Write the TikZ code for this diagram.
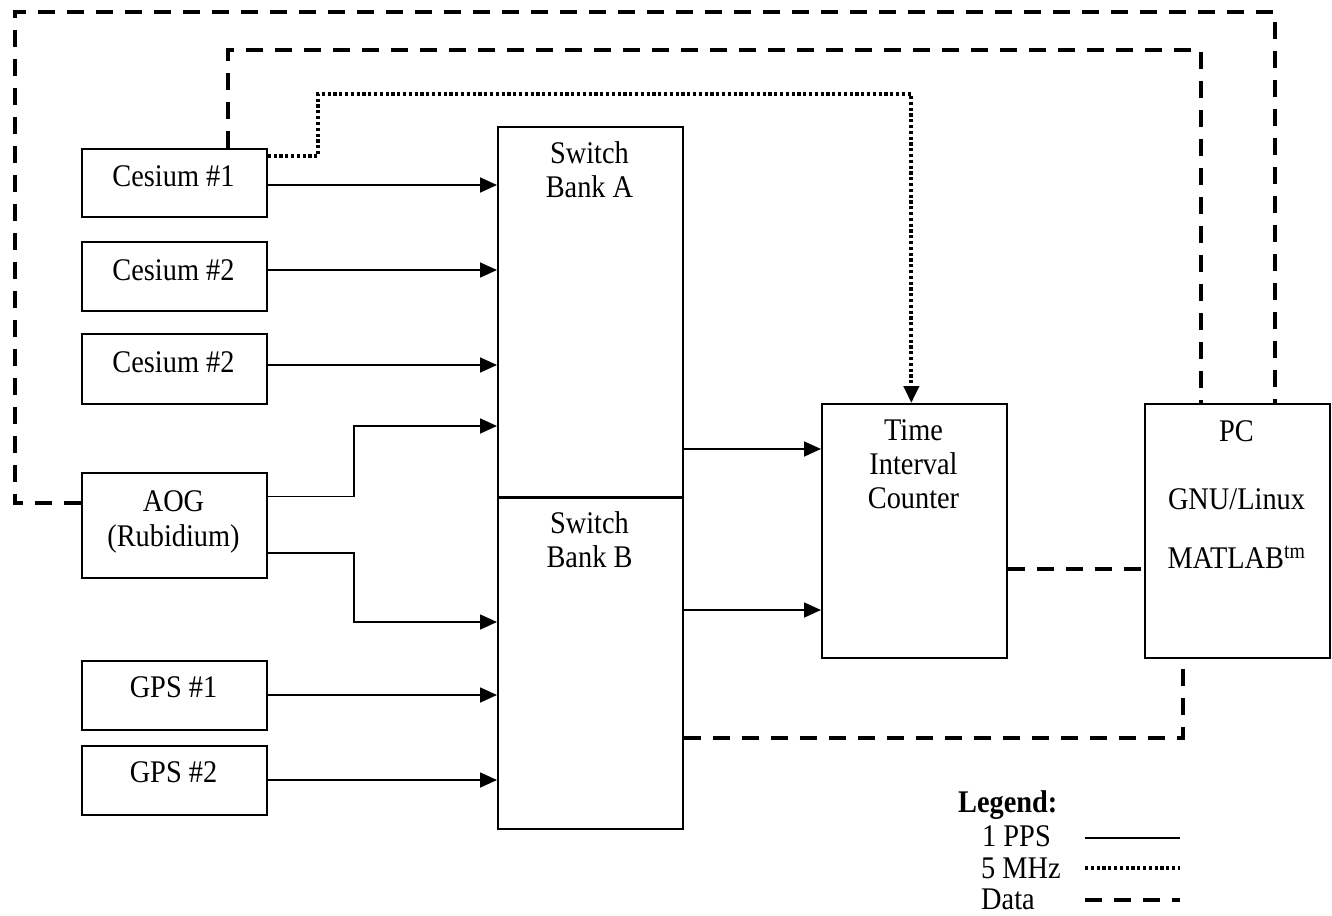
\documentclass[tikz,border=0pt]{standalone}
\usepackage{fontspec}
\setmainfont[FakeStretch=0.9]{Liberation Serif}
\usetikzlibrary{arrows.meta}
\begin{document}
\begin{tikzpicture}[x=1pt,y=-1pt,
  box/.style={draw,line width=1.7pt,inner sep=0pt,anchor=north west,minimum width=185pt},
  lbl/.style={anchor=base,inner sep=0pt,font=\fontsize{31.5}{33}\selectfont},
  leg/.style={anchor=base west,inner sep=0pt,font=\fontsize{31.5}{33}\selectfont},
  tip/.style={-{Triangle[length=17pt,width=15pt]}},
  pps/.style={line width=1.7pt,tip},
  ppsline/.style={line width=1.7pt},
  mhz/.style={line width=4pt,dash pattern=on 3.2pt off 2.6pt},
  data/.style={line width=3.6pt,dash pattern=on 17pt off 12pt},
]
\useasboundingbox (0,0) rectangle (1332,915);
\fill[white] (0,0) rectangle (1332,915);

% boxes
\node[box,minimum height=68pt] (c1) at (81,148) {};
\node[box,minimum height=69pt] (c2) at (81,241) {};
\node[box,minimum height=70pt] (c3) at (81,333) {};
\node[box,minimum height=105pt] (aog) at (81,472) {};
\node[box,minimum height=69pt] (gps1) at (81,660) {};
\node[box,minimum height=69pt] (gps2) at (81,745) {};
\node[box,minimum height=370pt] (swA) at (497,126) {};
\node[box,minimum height=330.5pt] (swB) at (497,497.5) {};
\node[box,minimum height=254pt] (tic) at (821,403) {};
\node[box,minimum height=254pt] (pc) at (1144,403) {};

% labels
\node[lbl] (t-c1) at (173.5,186) {Cesium \#1};
\node[lbl] (t-c2) at (173.5,280) {Cesium \#2};
\node[lbl] (t-c3) at (173.5,372) {Cesium \#2};
\node[lbl] (t-aog1) at (173.5,511) {AOG};
\node[lbl] (t-aog2) at (173.5,546) {(Rubidium)};
\node[lbl] (t-g1) at (173.5,697) {GPS \#1};
\node[lbl] (t-g2) at (173.5,782) {GPS \#2};
\node[lbl] (t-a1) at (589.5,163) {Switch};
\node[lbl] (t-a2) at (589.5,197) {Bank A};
\node[lbl] (t-b1) at (589.5,533) {Switch};
\node[lbl] (t-b2) at (589.5,567) {Bank B};
\node[lbl] (t-t1) at (913.5,440) {Time};
\node[lbl] (t-t2) at (913.5,474) {Interval};
\node[lbl] (t-t3) at (913.5,508) {Counter};
\node[lbl] (t-p1) at (1236.5,441) {PC};
\node[lbl] (t-p2) at (1236.5,509) {GNU/Linux};
\node[lbl] (t-p3) at (1236.5,568) {MATLAB\textsuperscript{tm}};

% helper coordinates
\coordinate (y-c1) at (0,185);
\coordinate (y-c2) at (0,270);
\coordinate (y-c3) at (0,365);
\coordinate (y-g1) at (0,695);
\coordinate (y-g2) at (0,780);
\coordinate (y-aA) at (0,426);
\coordinate (y-aB) at (0,622);
\coordinate (x-el) at (354,0);
\coordinate (y-sA) at (0,449);
\coordinate (y-sB) at (0,610);
\coordinate (y-tp) at (0,569);
\coordinate (y-bot) at (0,738);
\coordinate (x-bot) at (1183,0);
\coordinate (outer-l) at (15,0);
\coordinate (outer-t) at (0,12);
\coordinate (outer-r) at (1275,0);
\coordinate (inner-l) at (228,0);
\coordinate (inner-t) at (0,50);
\coordinate (inner-r) at (1201,0);
\coordinate (dot-x) at (318,0);
\coordinate (dot-t) at (0,94);
\coordinate (dot-s) at (0,156);
\coordinate (dot-e) at ([xshift=-3pt]tic.north);

% 1 PPS connectors
\draw[pps] (c1.east |- y-c1) -- (swA.west |- y-c1);
\draw[pps] (c2.east |- y-c2) -- (swA.west |- y-c2);
\draw[pps] (c3.east |- y-c3) -- (swA.west |- y-c3);
\draw[pps] ([yshift=29pt]aog.east) -| (x-el |- y-aA) -- (swA.west |- y-aA);
\draw[pps] ([yshift=-27.5pt]aog.east) -| (x-el |- y-aB) -- (swB.west |- y-aB);
\draw[pps] (gps1.east |- y-g1) -- (swB.west |- y-g1);
\draw[pps] (gps2.east |- y-g2) -- (swB.west |- y-g2);
\draw[pps] (swA.east |- y-sA) -- (tic.west |- y-sA);
\draw[pps] (swB.east |- y-sB) -- (tic.west |- y-sB);

% 5 MHz
\draw[mhz,tip] (c1.east |- dot-s) -- (dot-x |- dot-s) -- (dot-x |- dot-t) -- (dot-e |- dot-t) -- (dot-e);

% data
\draw[data] (aog.west |- 0,503) -- (outer-l |- 0,503) -- (outer-l |- outer-t) -- (outer-r |- outer-t) -- (outer-r |- pc.north);
\draw[data] (inner-l |- c1.north) -- (inner-l |- inner-t) -- (inner-r |- inner-t) -- (inner-r |- pc.north);
\draw[data] (tic.east |- y-tp) -- (pc.west |- y-tp);
\draw[data] (swB.east |- y-bot) -- (x-bot |- y-bot) -- (x-bot |- pc.south);

% legend
\node[anchor=base west,inner sep=0pt,font=\fontsize{31.5}{33}\selectfont\bfseries] (lg) at (958,812) {Legend:};
\node[leg] (lg1) at (982,846) {1 PPS};
\node[leg] (lg2) at (981,878) {5 MHz};
\node[leg] (lg3) at (981,909) {Data};
\coordinate (ls) at (1085,0);
\coordinate (le) at (1180,0);
\draw[ppsline] (ls |- 0,838) -- (le |- 0,838);
\draw[mhz] (ls |- 0,868) -- (le |- 0,868);
\draw[data] (ls |- 0,900) -- (le |- 0,900);
\end{tikzpicture}
\end{document}
